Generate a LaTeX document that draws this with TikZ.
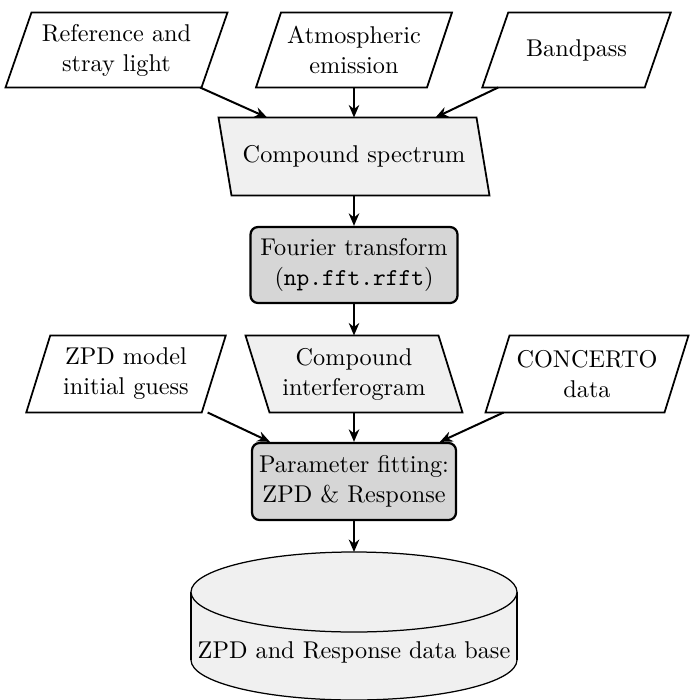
\documentclass[tikz,border=0pt]{standalone}
\usetikzlibrary{arrows.meta,backgrounds,calc}
\definecolor{lightfill}{gray}{0.94}
\definecolor{darkfill}{gray}{0.84}
\tikzset{
  lbl/.style={inner sep=0pt, align=center, font=\fontsize{9.7}{12}\selectfont},
  iobox/.style n args={2}{lbl, shape=rectangle, minimum width=#1*0.4pt, minimum height=#2*0.4pt},
  procbox/.style n args={2}{lbl, shape=rectangle, draw=black, fill=darkfill, line width=0.9pt,
     rounded corners=3pt, minimum width=#1*0.4pt, minimum height=#2*0.4pt},
  arr/.style={-{Stealth[length=5pt,width=4.2pt]}, line width=0.8pt},
  pline/.style={line width=0.7pt, draw=black},
  cyl/.style={line width=0.5pt, draw=black},
}
\newcommand{\parabox}[3]{%
  \path[pline,fill=#3] ($(#1.north west)+(#2/2,0)$) -- ($(#1.north east)+(#2/2,0)$)
    -- ($(#1.south east)-(#2/2,0)$) -- ($(#1.south west)-(#2/2,0)$) -- cycle;}
\begin{document}
\begin{tikzpicture}[x=0.4pt,y=-0.4pt]
\useasboundingbox (0,0) rectangle (689,700);
% top row
\node[iobox={195}{74}] (ref) at (116.5,50) {Reference and\\stray light};
\node[iobox={170}{74}] (atm) at (354,50) {Atmospheric\\emission};
\node[iobox={161.5}{74}] (band) at (576.5,50) {Bandpass};
\node[iobox={257}{77}] (spec) at (354,156.5) {Compound spectrum};
\node[procbox={207}{76}] (fft) at (354,265) {Fourier transform\\(\texttt{np.fft.rfft})};
% second row
\node[iobox={174.5}{76}] (zpd) at (126,374) {ZPD model\\initial guess};
\node[iobox={192}{76}] (intf) at (354,374) {Compound\\interferogram};
\node[iobox={178}{76}] (conc) at (587,374) {CONCERTO\\data};
\node[procbox={204}{77}] (fit) at (354,481.5) {Parameter fitting:\\ZPD \& Response};
% data base
\coordinate (dbtop) at (354,552);
\node[lbl] (db) at (354,652) {ZPD and Response data base};
\begin{pgfonlayer}{background}
  \parabox{ref}{26}{white}
  \parabox{atm}{25}{white}
  \parabox{band}{26}{white}
  \parabox{spec}{-13}{lightfill}
  \parabox{zpd}{24}{white}
  \parabox{intf}{-24}{lightfill}
  \parabox{conc}{24}{white}
  % cylinder
  \fill[lightfill] (191,592) rectangle (517,660);
  \fill[lightfill] (354,660) ellipse [x radius=163, y radius=40];
  \begin{scope}
    \clip (150,660) rectangle (560,720);
    \draw[cyl] (354,660) ellipse [x radius=163, y radius=40];
  \end{scope}
  \draw[cyl] (191,592) -- (191,660);
  \draw[cyl] (517,592) -- (517,660);
  \draw[cyl, fill=lightfill] (354,592) ellipse [x radius=163, y radius=40];
\end{pgfonlayer}
% connectors
\draw[arr] (ref) -- (spec);
\draw[arr] (atm) -- (spec);
\draw[arr] (band) -- (spec);
\draw[arr] (spec) -- (fft);
\draw[arr] (fft) -- (intf);
\draw[arr] (zpd) -- (fit);
\draw[arr] (intf) -- (fit);
\draw[arr] (conc) -- (fit);
\draw[arr] (fit) -- (dbtop);
\end{tikzpicture}
\end{document}
